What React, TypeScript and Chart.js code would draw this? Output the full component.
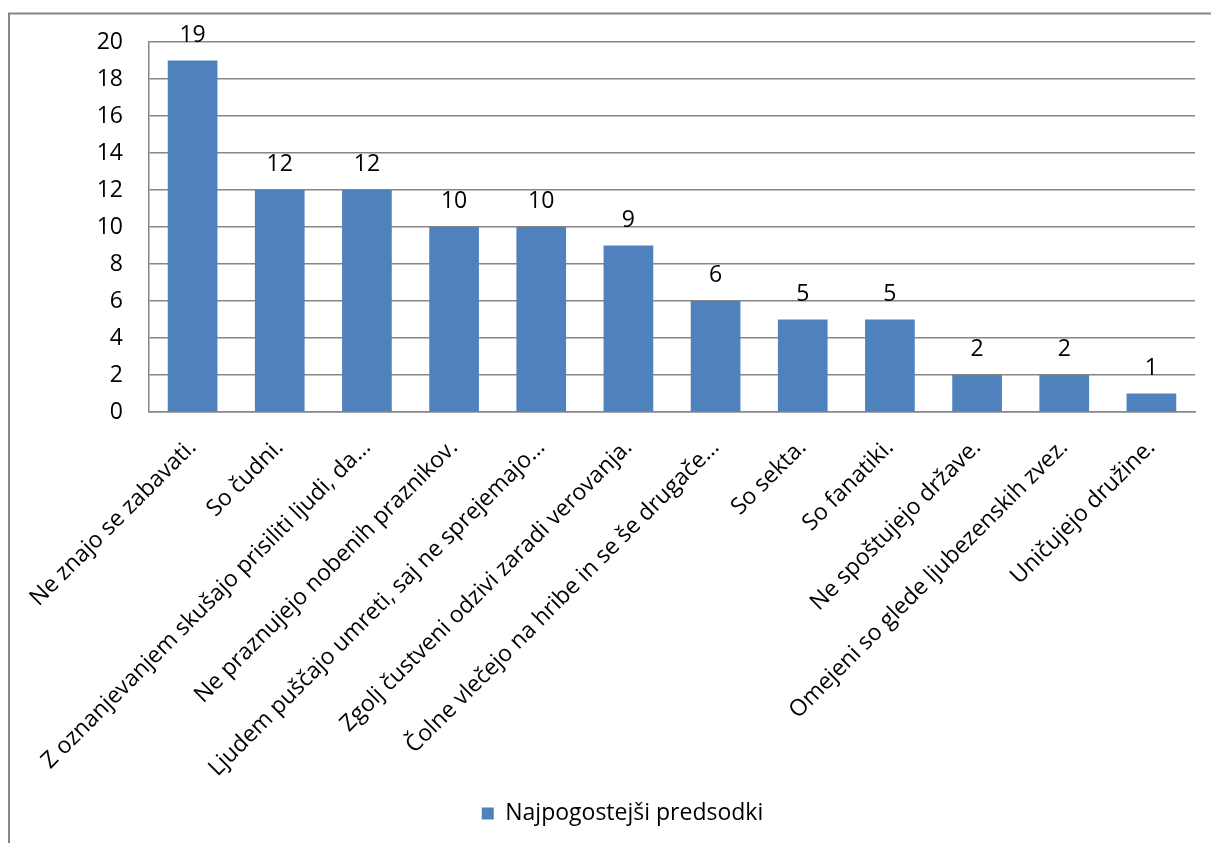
import React, { useEffect, useRef } from "react";
import { Chart, registerables } from "chart.js";

Chart.register(...registerables);

const categories: string[] = [
  "Ne znajo se zabavati.",
  "So čudni.",
  "Z oznanjevanjem skušajo prisiliti ljudi, da…",
  "Ne praznujejo nobenih praznikov.",
  "Ljudem puščajo umreti, saj ne sprejemajo…",
  "Zgolj čustveni odzivi zaradi verovanja.",
  "Čolne vlečejo na hribe in se še drugače…",
  "So sekta.",
  "So fanatiki.",
  "Ne spoštujejo države.",
  "Omejeni so glede ljubezenskih zvez.",
  "Uničujejo družine.",
];

const seriesName = "Najpogostejši predsodki";
const seriesValues: number[] = [19, 12, 12, 10, 10, 9, 6, 5, 5, 2, 2, 1];

const yMin = 0;
const yMax = 20;
const yStep = 2;

const FONT = "'Open Sans', 'DejaVu Sans', sans-serif";
const GRID = "#868686";

const borderPlugin = {
  id: "outerBorder",
  beforeDraw(chart: any) {
    const ctx = chart.ctx;
    ctx.save();
    ctx.fillStyle = "#ffffff";
    ctx.fillRect(0, 0, chart.width, chart.height);
    ctx.strokeStyle = GRID;
    ctx.lineWidth = 2;
    ctx.strokeRect(9, 13.5, chart.width + 100, chart.height + 100);
    ctx.restore();
  },
};

const valueLabelPlugin = {
  id: "valueLabels",
  afterDatasetsDraw(chart: any) {
    const ctx = chart.ctx;
    const meta = chart.getDatasetMeta(0);
    const data = chart.data.datasets[0].data;
    ctx.save();
    ctx.fillStyle = "#000000";
    ctx.font = `23px ${FONT}`;
    ctx.textAlign = "center";
    ctx.textBaseline = "alphabetic";
    meta.data.forEach((bar: any, i: number) => {
      ctx.fillText(String(data[i]), bar.x, bar.y - 19);
    });
    ctx.restore();
  },
};

export default function App() {
  const canvasRef = useRef<HTMLCanvasElement | null>(null);

  useEffect(() => {
    if (!canvasRef.current) return;
    const chart = new Chart(canvasRef.current, {
      type: "bar",
      data: {
        labels: categories,
        datasets: [
          {
            label: seriesName,
            data: seriesValues,
            backgroundColor: "#4F81BD",
            borderWidth: 0,
            categoryPercentage: 1,
            barPercentage: 0.57,
          },
        ],
      },
      options: {
        responsive: false,
        animation: false,
        layout: { padding: { left: 50, right: 16, top: 42, bottom: 8 } },
        plugins: {
          legend: {
            position: "bottom",
            labels: {
              boxWidth: 12,
              boxHeight: 12,
              padding: 10,
              color: "#000000",
              font: { family: FONT, size: 23 },
            },
          },
          tooltip: { enabled: false },
        },
        scales: {
          x: {
            grid: { display: false },
            border: { display: true, color: GRID, width: 1.5 },
            ticks: {
              autoSkip: false,
              maxRotation: 45,
              minRotation: 45,
              color: "#000000",
              padding: 14,
              font: { family: FONT, size: 23 },
            },
            afterFit(scale: any) {
              scale.height = 380;
            },
          },
          y: {
            min: yMin,
            max: yMax,
            grid: { color: GRID, lineWidth: 1.5, drawTicks: false },
            border: { display: true, color: GRID, width: 1.5 },
            ticks: {
              stepSize: yStep,
              color: "#000000",
              padding: 26,
              font: { family: FONT, size: 23 },
            },
            afterFit(scale: any) {
              scale.width = 99;
            },
          },
        },
      },
      plugins: [borderPlugin, valueLabelPlugin],
    });
    return () => chart.destroy();
  }, []);

  return (
    <div style={{ position: "fixed", left: 0, top: 0, width: 1211, height: 843 }}>
      <canvas ref={canvasRef} width={1211} height={843} style={{ display: "block" }} />
    </div>
  );
}
